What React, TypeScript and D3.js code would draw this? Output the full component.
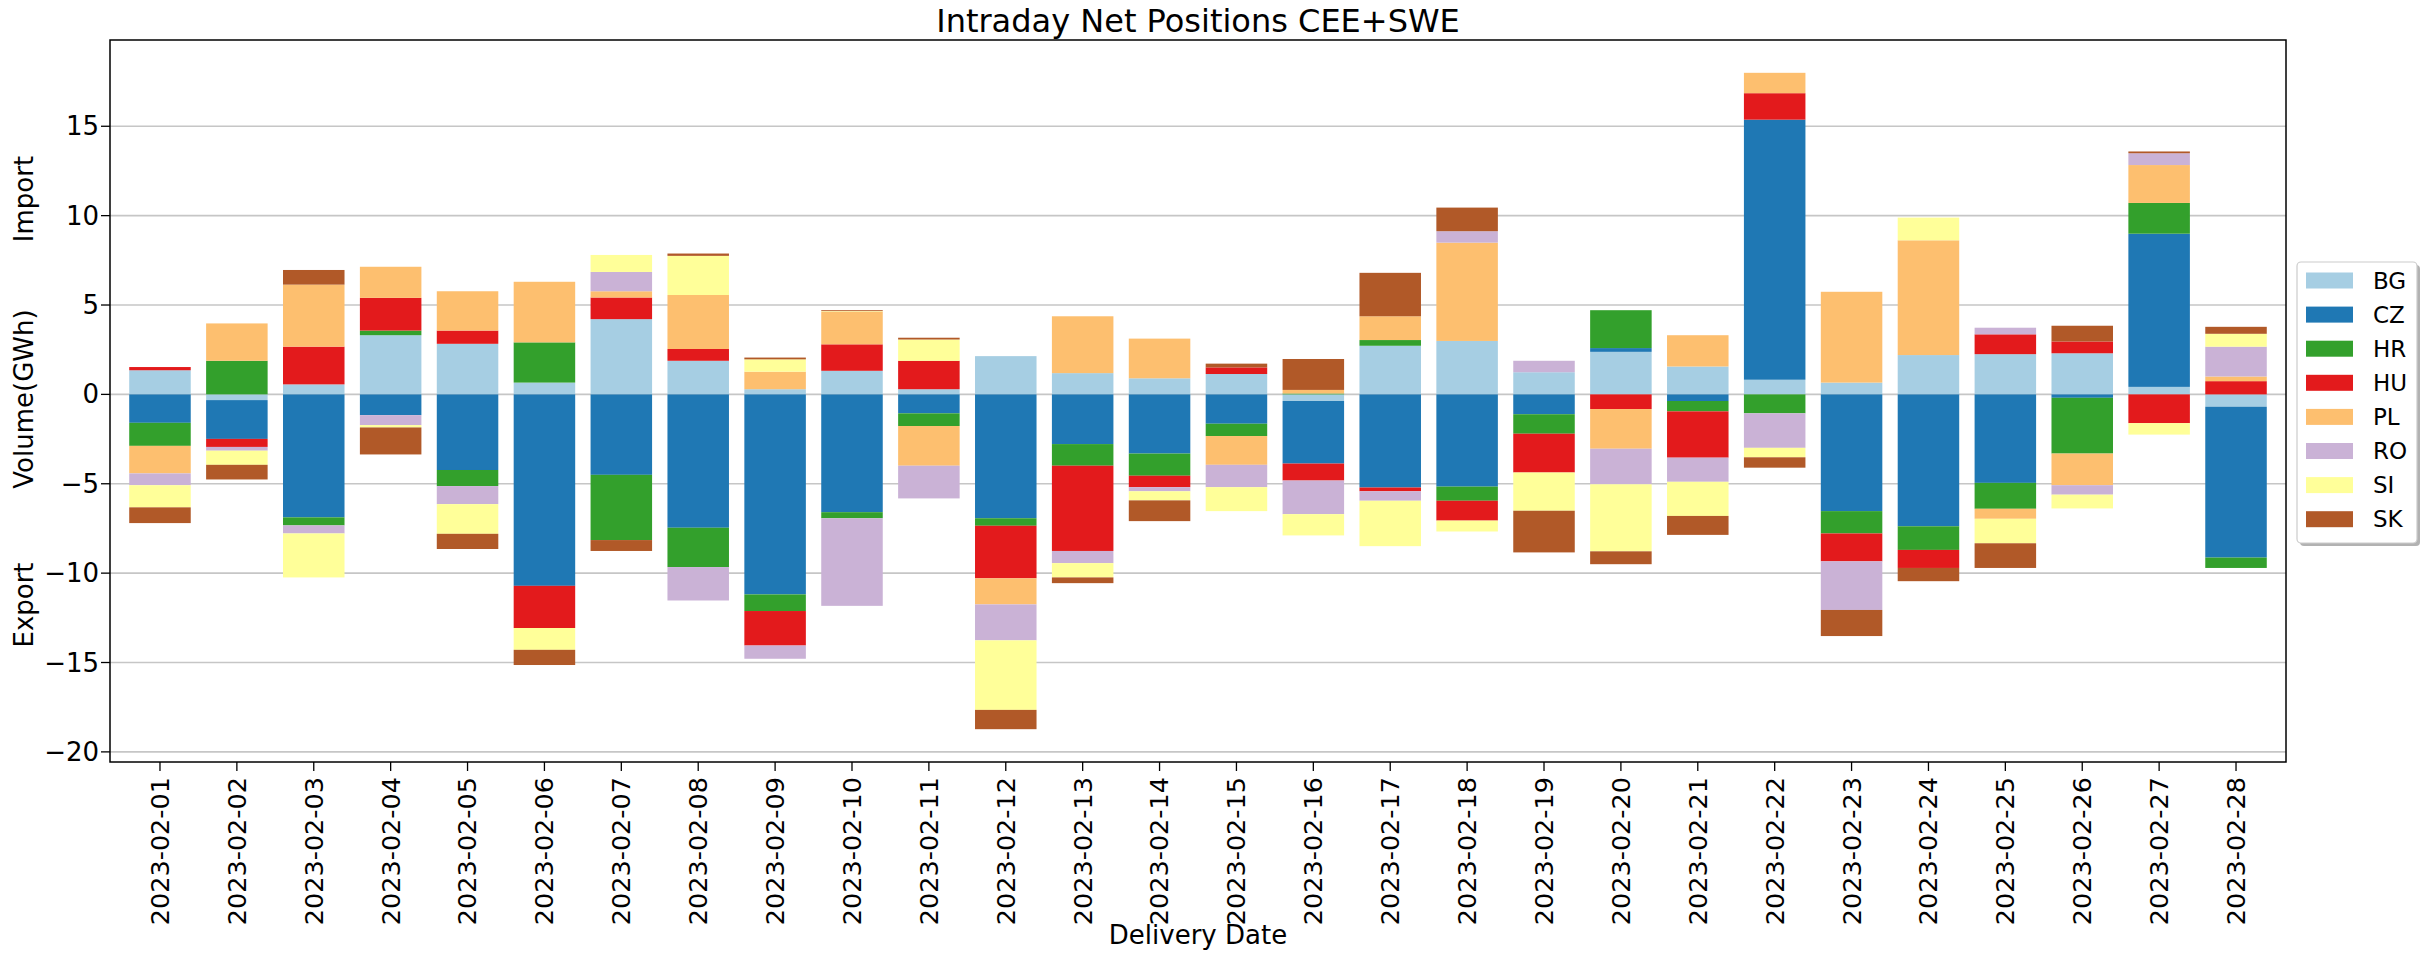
import { useMemo } from 'react';
import * as d3 from 'd3';

const dates = [
    '2023-02-01', '2023-02-02', '2023-02-03', '2023-02-04', '2023-02-05', '2023-02-06', '2023-02-07',
    '2023-02-08', '2023-02-09', '2023-02-10', '2023-02-11', '2023-02-12', '2023-02-13', '2023-02-14',
    '2023-02-15', '2023-02-16', '2023-02-17', '2023-02-18', '2023-02-19', '2023-02-20', '2023-02-21',
    '2023-02-22', '2023-02-23', '2023-02-24', '2023-02-25', '2023-02-26', '2023-02-27', '2023-02-28',
];

const countries = ['BG', 'CZ', 'HR', 'HU', 'PL', 'RO', 'SI', 'SK'];
const colours = ['#a6cee3', '#1f78b4', '#33a02c', '#e31a1c', '#fdbf6f', '#cab2d6', '#ffff99', '#b15928'];

// net positions per country (GWh), one value per delivery day
const BG = [1.35, -0.32, 0.56, 3.31, 2.83, 0.66, 4.21, 1.88, 0.29, 1.32, 0.29, 2.14, 1.19, 0.9, 1.14, -0.37, 2.72, 2.99, 1.24, 2.38, 1.56, 0.82, 0.66, 2.2, 2.25, 2.3, 0.42, -0.69];
const CZ = [-1.59, -2.17, -6.88, -1.16, -4.23, -10.71, -4.5, -7.46, -11.19, -6.59, -1.06, -6.93, -2.78, -3.31, -1.64, -3.5, -5.21, -5.16, -1.11, 0.21, -0.37, 14.55, -6.53, -7.38, -4.95, -0.19, 8.57, -8.44];
const HR = [-1.29, 1.88, -0.45, 0.26, -0.9, 2.25, -3.65, -2.2, -0.93, -0.34, -0.71, -0.42, -1.21, -1.24, -0.69, 0.05, 0.32, -0.79, -1.09, 2.12, -0.58, -1.06, -1.25, -1.32, -1.45, -3.12, 1.72, -0.58];
const HU = [0.18, -0.45, 2.11, 1.83, 0.74, -2.36, 1.21, 0.66, -1.93, 1.48, 1.59, -2.94, -4.77, -0.64, 0.37, -0.95, -0.21, -1.11, -2.17, -0.82, -2.59, 1.48, -1.56, -1.01, 1.11, 0.66, -1.61, 0.74];
const PL = [-1.54, 2.09, 3.47, 1.74, 2.2, 3.39, 0.35, 3.02, 0.98, 1.83, -2.22, -1.46, 3.18, 2.22, -1.61, 0.2, 1.33, 5.5, 0, -2.22, 1.75, 1.14, 5.08, 6.42, -0.56, -1.77, 2.12, 0.26];
const RO = [-0.66, -0.21, -0.45, -0.56, -1.01, 0, 1.08, -1.87, -0.74, -4.9, -1.83, -2.01, -0.68, -0.23, -1.25, -1.88, -0.53, 0.64, 0.64, -1.99, -1.35, -1.93, -2.72, 0, 0.37, -0.53, 0.66, 1.67];
const SI = [-1.24, -0.79, -2.46, -0.13, -1.66, -1.22, 0.95, 2.19, 0.69, 0.03, 1.19, -3.89, -0.8, -0.51, -1.34, -1.19, -2.54, -0.61, -2.14, -3.75, -1.91, -0.53, 0, 1.27, -1.37, -0.77, -0.64, 0.72];
const SK = [-0.88, -0.82, 0.82, -1.51, -0.85, -0.85, -0.61, 0.13, 0.1, 0.05, 0.1, -1.08, -0.32, -1.16, 0.21, 1.73, 2.43, 1.32, -2.33, -0.72, -1.06, -0.58, -1.46, -0.74, -1.38, 0.88, 0.1, 0.39];

const yTicks = [-20, -15, -10, -5, 0, 5, 10, 15];

const width = 2433;
const height = 957;
const margin = { top: 40, right: 147, bottom: 195, left: 110 };
const font = 'DejaVu Sans, Verdana, sans-serif';

export default function App() {
    const rows = useMemo(() => {
        const series = [BG, CZ, HR, HU, PL, RO, SI, SK];
        return dates.map((date, i) => {
            const row: Record<string, number | string> = { date };
            countries.forEach((c, k) => (row[c] = series[k][i]));
            return row;
        });
    }, []);

    const stacked = useMemo(
        () =>
            d3
                .stack<Record<string, number | string>>()
                .keys(countries)
                .value((d, key) => d[key] as number)
                .offset(d3.stackOffsetDiverging)(rows),
        [rows]
    );

    const xScale = useMemo(
        () =>
            d3
                .scaleBand<string>()
                .domain(dates)
                .range([margin.left, width - margin.right])
                .paddingInner(0.2)
                .paddingOuter(0.25),
        []
    );

    const yScale = useMemo(() => {
        const lo = d3.min(stacked, (s) => d3.min(s, (d) => d[0]))!;
        const hi = d3.max(stacked, (s) => d3.max(s, (d) => d[1]))!;
        const pad = (hi - lo) * 0.05;
        return d3
            .scaleLinear()
            .domain([lo - pad, hi + pad])
            .range([height - margin.bottom, margin.top]);
    }, [stacked]);

    const plotLeft = margin.left;
    const plotRight = width - margin.right;
    const plotTop = margin.top;
    const plotBottom = height - margin.bottom;
    const midX = (plotLeft + plotRight) / 2;
    const fmt = d3.format('d');

    const legendX = 2297;
    const legendY = 262;
    const rowH = 34.1;

    return (
        <svg
            width={width}
            height={height}
            viewBox={`0 0 ${width} ${height}`}
            style={{ position: 'absolute', left: 0, top: 0, background: '#fff' }}
            fontFamily={font}
        >
            {/* grid */}
            <g>
                {yTicks.map((t) => (
                    <line
                        key={t}
                        x1={plotLeft}
                        x2={plotRight}
                        y1={yScale(t)}
                        y2={yScale(t)}
                        stroke="#c6c6c6"
                        strokeWidth={1.6}
                    />
                ))}
            </g>

            {/* bars */}
            <g>
                {stacked.map((s, k) => (
                    <g key={s.key} fill={colours[k]}>
                        {s.map((d, i) => {
                            if (d[1] === d[0]) return null;
                            return (
                                <rect
                                    key={i}
                                    x={xScale(dates[i])}
                                    width={xScale.bandwidth()}
                                    y={yScale(d[1])}
                                    height={yScale(d[0]) - yScale(d[1])}
                                />
                            );
                        })}
                    </g>
                ))}
            </g>

            {/* frame */}
            <rect
                x={plotLeft}
                y={plotTop}
                width={plotRight - plotLeft}
                height={plotBottom - plotTop}
                fill="none"
                stroke="#000"
                strokeWidth={1.5}
            />

            {/* y axis */}
            <g fontSize={26} fill="#000">
                {yTicks.map((t) => (
                    <g key={t} transform={`translate(0, ${yScale(t)})`}>
                        <line x1={plotLeft - 9} x2={plotLeft} stroke="#000" strokeWidth={1.3} />
                        <text x={plotLeft - 11} dy="0.35em" textAnchor="end">
                            {fmt(t)}
                        </text>
                    </g>
                ))}
            </g>

            {/* x axis */}
            <g fontSize={25.5} fill="#000">
                {dates.map((d) => {
                    const cx = xScale(d)! + xScale.bandwidth() / 2;
                    return (
                        <g key={d}>
                            <line x1={cx} x2={cx} y1={plotBottom} y2={plotBottom + 9} stroke="#000" strokeWidth={1.3} />
                            <text
                                transform={`translate(${cx}, ${plotBottom + 15}) rotate(-90)`}
                                dy="0.35em"
                                textAnchor="end"
                            >
                                {d}
                            </text>
                        </g>
                    );
                })}
            </g>

            {/* labels */}
            <text x={midX} y={32} textAnchor="middle" fontSize={32}>
                Intraday Net Positions CEE+SWE
            </text>
            <text x={midX} y={944} textAnchor="middle" fontSize={26}>
                Delivery Date
            </text>
            <text transform="translate(33, 199) rotate(-90)" textAnchor="middle" fontSize={26}>
                Import
            </text>
            <text transform="translate(33, 399) rotate(-90)" textAnchor="middle" fontSize={26}>
                Volume(GWh)
            </text>
            <text transform="translate(33, 605) rotate(-90)" textAnchor="middle" fontSize={26}>
                Export
            </text>

            {/* legend */}
            <g>
                <rect x={legendX + 3} y={legendY + 3} width={120} height={281} rx={4} fill="#000" opacity={0.3} />
                <rect x={legendX} y={legendY} width={120} height={281} rx={4} fill="#fff" stroke="#cccccc" strokeWidth={1.2} />
                {countries.map((c, k) => {
                    const cy = legendY + 18.5 + k * rowH;
                    return (
                        <g key={c}>
                            <rect x={legendX + 9} y={cy - 8} width={47} height={16} fill={colours[k]} />
                            <text x={legendX + 76} y={cy} dy="0.36em" fontSize={23}>
                                {c}
                            </text>
                        </g>
                    );
                })}
            </g>
        </svg>
    );
}
